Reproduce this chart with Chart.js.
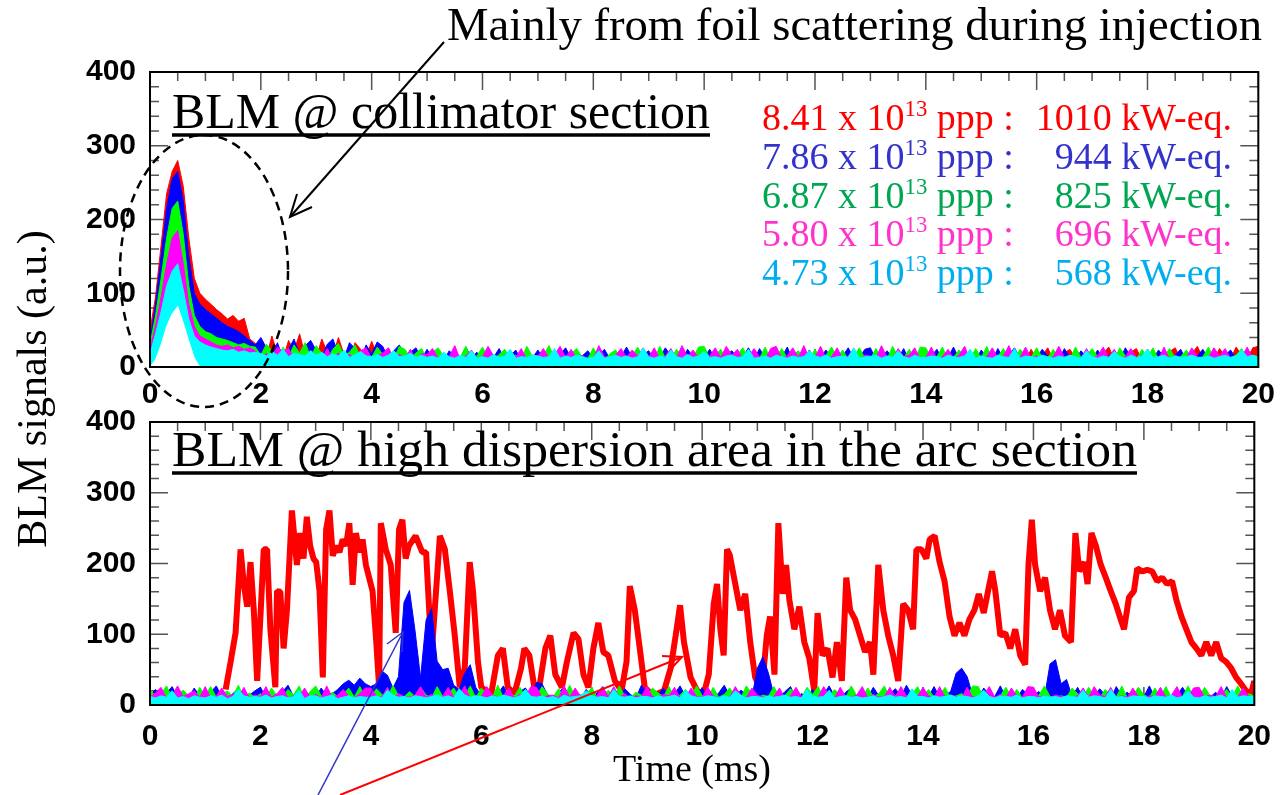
<!DOCTYPE html>
<html>
<head>
<meta charset="utf-8">
<script src="https://cdn.jsdelivr.net/npm/chart.js@4"></script>
<style>
  html, body { margin: 0; padding: 0; background: #fff; overflow: hidden; }
  #wrap { position: relative; width: 1285px; height: 795px; }
  canvas { position: absolute; left: 0; }
  #topChart { top: 0; }
  #botChart { top: 390px; }
  svg { position: absolute; left: 0; top: 0; pointer-events: none; }
  text { font-family: "Liberation Serif", "Times New Roman", serif; }
</style>
</head>
<body>
<div id="wrap">
  <canvas id="topChart" width="1285" height="420"></canvas>
  <canvas id="botChart" width="1285" height="405"></canvas>
  <svg width="1285" height="795" xmlns="http://www.w3.org/2000/svg">
    <!-- annotation top -->
    <text x="447" y="40" font-size="46" fill="#000" textLength="815" lengthAdjust="spacingAndGlyphs">Mainly from foil scattering during injection</text>
    <ellipse cx="204" cy="271" rx="84" ry="136" fill="none" stroke="#000" stroke-width="2.5" stroke-dasharray="9 6"/>
    <line x1="444" y1="42" x2="290" y2="217" stroke="#000" stroke-width="2"/>
    <polyline points="312,207 290,217 297,194" fill="none" stroke="#000" stroke-width="2"/>

    <!-- panel titles -->
    <text x="172" y="128" font-size="50" fill="#000" textLength="538" lengthAdjust="spacingAndGlyphs">BLM @ collimator section</text>
    <line x1="172" y1="135" x2="710" y2="135" stroke="#000" stroke-width="3.5"/>
    <text x="172" y="466" font-size="50" fill="#000" textLength="965" lengthAdjust="spacingAndGlyphs">BLM @ high dispersion area in the arc section</text>
    <line x1="172" y1="473" x2="1137" y2="473" stroke="#000" stroke-width="3.5"/>

    <!-- legend -->
    <g font-size="38">
      <text x="762" y="130" fill="#ff0000">8.41 x 10<tspan font-size="60%" dy="-14">13</tspan><tspan dy="14"> ppp :</tspan></text>
      <text x="1232" y="130" fill="#ff0000" text-anchor="end">1010 kW-eq.</text>
      <text x="762" y="169" fill="#3333cc">7.86 x 10<tspan font-size="60%" dy="-14">13</tspan><tspan dy="14"> ppp :</tspan></text>
      <text x="1232" y="169" fill="#3333cc" text-anchor="end">944 kW-eq.</text>
      <text x="762" y="208" fill="#00a651">6.87 x 10<tspan font-size="60%" dy="-14">13</tspan><tspan dy="14"> ppp :</tspan></text>
      <text x="1232" y="208" fill="#00a651" text-anchor="end">825 kW-eq.</text>
      <text x="762" y="246" fill="#ff33cc">5.80 x 10<tspan font-size="60%" dy="-14">13</tspan><tspan dy="14"> ppp :</tspan></text>
      <text x="1232" y="246" fill="#ff33cc" text-anchor="end">696 kW-eq.</text>
      <text x="762" y="285" fill="#00aeef">4.73 x 10<tspan font-size="60%" dy="-14">13</tspan><tspan dy="14"> ppp :</tspan></text>
      <text x="1232" y="285" fill="#00aeef" text-anchor="end">568 kW-eq.</text>
    </g>

    <!-- axis titles -->
    <text transform="translate(46,389) rotate(-90)" text-anchor="middle" font-size="42" fill="#000">BLM signals (a.u.)</text>
    <text x="692" y="781" text-anchor="middle" font-size="38" fill="#000">Time (ms)</text>

    <!-- arrows in lower panel -->
    <line x1="318" y1="795" x2="403" y2="632" stroke="#3333cc" stroke-width="1.5"/>
    <polyline points="387,644 403,632 402,652" fill="none" stroke="#3333cc" stroke-width="1.5"/>
    <line x1="340" y1="795" x2="682" y2="657" stroke="#ff0000" stroke-width="2"/>
    <polyline points="662,656 682,657 668,672" fill="none" stroke="#ff0000" stroke-width="2"/>
  </svg>
</div>

<script>
// ---- data (samples every 0.1 ms from 0 to 20 ms, one row = 1 ms) ----
const sampleStep = 0.1;

// upper panel: BLM @ collimator section
const topRed = [50,95,165,235,265,280,245,175,120,100, 92,85,78,72,65,70,62,66,38,32,
  30,14,42,18,11,36,22,45,15,28,  12,38,20,14,40,17,11,33,24,13,  35,16,12,26,10,21,13,9,18,11,
  10,14,9,12,17,8,11,15,9,13,     12,8,16,10,9,14,11,8,13,10,     9,13,11,8,15,10,12,9,14,11,
  14,10,8,12,9,16,10,13,8,11,     11,9,15,10,13,8,12,10,9,14,     10,13,9,16,11,8,12,14,10,9,
  13,10,12,8,14,11,9,15,10,12,    9,14,11,10,13,9,16,10,12,8,     12,9,15,11,8,13,10,14,9,17,
  10,13,9,18,11,14,8,12,20,10,    14,11,22,9,13,10,16,12,9,24,    11,15,26,10,13,19,24,12,9,16,
  13,10,18,27,11,15,12,20,25,10,  24,12,16,10,21,26,11,14,18,28,  12,19,10,25,14,11,27,16,10,26, 28];
const topBlue = [35,85,150,215,255,265,225,150,100,85, 78,72,66,60,55,52,48,42,36,30,
  40,26,15,33,12,24,38,16,29,36,  22,14,31,38,18,12,33,25,10,30,  18,34,28,12,22,30,14,20,26,11,
  24,12,16,9,22,14,11,27,13,20,   10,18,13,25,11,15,23,9,14,12,   23,11,14,10,17,26,12,9,15,22,
  12,16,24,11,9,14,27,13,10,17,   22,10,13,26,15,11,9,24,14,12,   13,24,11,9,16,22,12,14,26,10,
  25,12,15,10,13,27,9,16,12,23,   11,14,23,12,9,15,26,11,13,24,   26,10,13,22,14,11,25,9,16,12,
  12,15,24,10,13,27,11,14,23,9,   23,13,10,25,11,16,26,12,14,10,  12,24,15,11,9,25,13,10,22,14,
  10,23,12,16,13,9,26,14,11,15,   14,11,23,13,10,16,24,9,12,15,   24,10,14,12,16,23,11,13,22,10, 12];
const topGreen = [30,70,120,175,215,225,180,110,70,55, 48,45,40,38,36,33,30,32,28,27,
  16,31,22,12,27,14,30,19,33,13,  29,18,11,24,32,15,20,30,13,23,  13,27,17,21,11,28,24,12,19,25,
  11,20,26,14,10,18,13,28,11,15,  27,13,10,17,24,12,16,11,28,14,  10,16,29,12,14,9,18,25,13,11,
  26,13,10,18,23,12,9,15,27,13,   14,11,28,12,10,24,16,11,13,27,  28,12,15,24,10,13,17,26,11,14,
  12,27,10,14,25,12,16,22,13,10,  24,11,16,27,13,23,10,14,26,12,  11,25,13,10,28,14,12,24,11,27,
  26,12,14,27,10,13,23,15,11,25,  12,28,11,14,25,13,10,24,16,13,  26,13,12,24,11,14,10,27,13,15,
  25,14,11,13,10,26,15,12,10,24,  13,26,10,15,25,12,14,23,13,11,  14,27,12,10,15,13,16,25,11,14, 13];
const topMagenta = [25,55,95,140,175,185,140,85,55,42, 38,34,30,28,30,26,28,24,26,22,
  12,18,15,27,21,25,11,17,14,22,  16,13,25,11,19,14,17,12,22,26,  11,15,19,26,13,17,12,24,10,18,
  17,25,12,16,14,29,10,15,23,12,  14,28,15,11,16,23,13,25,10,16,  15,25,12,17,28,13,24,11,16,10,
  11,29,14,12,16,25,13,23,15,26,  13,26,11,15,25,12,29,14,23,12,  11,15,26,13,28,16,24,10,14,25,
  14,10,25,28,12,15,26,13,29,11,  13,28,12,14,26,11,15,25,10,16,  15,12,29,13,11,25,14,16,26,10,
  13,27,11,14,24,12,16,28,10,13,  11,14,26,12,15,29,11,13,27,12,  15,12,10,14,28,13,16,11,12,25,
  12,15,27,13,24,11,14,25,12,16,  15,13,11,27,10,16,12,13,26,14,  11,13,26,15,25,12,10,14,27,11, 12];
const topCyan = [18,45,75,110,130,140,105,65,42,34, 30,27,25,23,22,24,20,22,19,20,
  18,15,21,16,24,14,19,17,15,22,  16,20,14,18,15,23,13,17,21,15,  14,17,13,16,22,14,15,19,13,16,
  13,15,12,20,14,12,16,13,22,12,  14,12,17,13,15,24,12,14,13,16,  15,13,14,25,12,15,13,16,14,12,
  13,22,12,14,16,13,15,12,14,26,  14,12,15,13,23,14,12,17,13,15,  21,13,14,12,15,16,13,14,24,12,
  13,15,12,16,14,12,15,13,14,22,  15,13,16,12,14,15,13,26,12,14,  14,16,12,15,13,22,14,12,16,13,
  13,15,14,12,16,14,13,15,24,12,  15,13,12,16,14,13,25,12,15,14,  13,16,14,12,15,13,16,14,12,22,
  14,12,15,13,21,14,12,16,13,15,  24,13,14,16,12,15,13,14,16,13,  13,15,12,14,16,13,15,23,14,16, 14];
// the white hole inside the injection peak
const topWhite = [0,10,30,55,72,82,60,35,12,0];

// lower panel: BLM @ high dispersion area in the arc section
const botBlue = [14,22,9,17,26,11,15,10,24,13,  10,18,27,12,9,16,23,11,14,20,  25,11,15,9,19,28,12,10,17,13,
  11,24,13,16,22,30,35,28,38,30,  26,30,48,42,24,40,145,162,105,38,  120,136,62,50,52,28,22,45,57,25,
  13,21,10,16,27,12,9,19,24,11,  32,30,14,10,18,25,12,16,9,22,  12,17,26,10,14,11,23,15,10,28,
  18,11,14,24,10,16,27,12,9,15,  24,12,10,17,28,13,11,21,15,10,  52,68,45,14,11,19,26,10,16,12,
  22,10,15,27,12,9,18,24,11,14,  11,25,13,10,16,23,12,28,14,9,  17,12,26,11,14,19,45,52,40,13,
  10,24,14,12,27,11,16,9,22,15,  13,19,11,58,64,30,36,12,25,10,  16,11,23,14,9,26,13,18,10,24,
  12,27,10,15,20,11,14,25,13,9,  23,14,11,18,10,26,12,15,22,11, 16];
const botGreen = [22,12,16,27,10,14,21,13,9,25,  13,26,11,15,20,12,28,10,17,11,  16,10,24,13,11,22,14,27,10,19,
  27,13,10,18,12,15,24,11,26,12,  11,23,15,10,28,13,11,19,12,25,  14,10,26,12,16,24,11,13,27,10,
  24,15,11,28,10,17,13,25,11,14,  12,26,16,11,23,10,28,12,15,13,  25,10,13,21,11,27,12,10,18,14,
  11,24,17,12,26,10,14,22,13,27,  13,10,25,11,15,24,12,10,27,16,  10,14,12,26,11,13,23,15,10,25,
  15,26,11,12,22,14,10,27,13,11,  24,12,16,27,10,13,20,11,15,26,  12,22,11,14,25,10,13,16,12,27,
  26,11,15,10,13,25,12,22,10,14,  11,14,27,12,10,13,11,24,16,12,  25,13,10,22,14,11,27,10,13,25,
  14,11,24,12,26,10,15,12,27,11,  12,25,13,10,14,22,11,27,12,16, 13];
const botMagenta = [11,17,25,10,14,27,12,16,20,11,  26,10,13,24,12,15,11,25,10,14,  12,26,11,16,25,10,13,12,24,11,
  15,10,27,11,14,22,12,10,16,24,  24,13,11,25,10,16,12,11,14,26,  11,15,10,12,25,11,14,27,10,13,
  12,26,14,11,13,24,10,15,12,26,  25,11,13,14,10,27,11,24,12,10,  10,14,25,12,26,11,16,10,13,12,
  26,12,11,15,13,25,10,11,24,12,  11,25,13,10,12,11,26,14,10,24,  14,11,10,12,24,10,13,25,12,11,
  12,11,26,14,10,25,12,11,14,26,  10,15,11,12,25,11,26,13,10,12,  25,13,10,26,11,14,12,10,25,11,
  12,14,26,11,15,10,24,13,11,26,  25,11,13,10,14,12,10,11,13,24,  11,26,14,12,25,10,13,11,24,12,
  10,13,12,25,11,14,26,10,11,24,  25,11,14,12,26,10,13,11,24,12, 11];
const botCyan = [12,10,13,11,20,10,12,9,13,11,  10,13,11,14,9,12,22,13,11,12,  11,14,10,12,13,10,12,21,9,13,
  13,10,12,14,9,11,13,10,12,11,  11,13,10,21,14,11,12,10,13,12,  10,12,14,11,13,10,23,14,11,13,
  12,10,13,11,14,12,10,13,22,12,  11,13,10,12,9,14,11,12,13,20,  13,11,12,10,22,12,11,13,10,12,
  12,10,13,11,12,14,10,21,13,11,  11,13,12,10,13,11,20,14,10,12,  12,10,13,11,12,14,11,12,10,22,
  13,11,12,21,10,12,13,11,12,10,  11,13,10,12,14,11,12,10,23,12,  12,10,13,11,12,14,11,13,12,10,
  13,21,12,10,13,12,11,14,10,12,  12,10,13,11,12,10,13,12,11,21,  11,13,12,10,22,11,12,10,13,12,
  12,10,13,12,11,14,10,12,20,11,  10,13,11,12,14,10,22,11,13,12, 12];

// red (8.41e13 ppp) in the arc
const redT = [1.37,1.46,1.55,1.64,1.70,1.76,1.82,1.88,1.94,2.00,2.06,2.12,2.18,2.27,2.30,2.36,2.42,2.48,2.57,2.66,
  2.72,2.78,2.84,2.90,2.96,3.01,3.07,3.13,3.19,3.25,3.31,3.37,3.43,3.49,3.55,3.61,3.67,3.73,3.79,3.85,
  3.91,4.03,4.09,4.15,4.18,4.27,4.36,4.45,4.51,4.57,4.63,4.69,4.81,4.93,5.00,5.10,5.25,5.34,5.43,5.52,
  5.61,5.70,5.79,5.85,5.94,6.00,6.09,6.18,6.30,6.39,6.48,6.60,6.72,6.78,6.87,6.96,7.04,7.16,7.25,7.34,
  7.46,7.55,7.67,7.76,7.85,7.94,8.03,8.12,8.21,8.30,8.42,8.54,8.63,8.69,8.78,8.87,8.96,9.07,9.19,9.31,
  9.43,9.52,9.60,9.67,9.79,9.91,10.03,10.12,10.21,10.27,10.33,10.39,10.45,10.50,10.59,10.69,10.78,10.87,10.96,11.08,
  11.17,11.23,11.31,11.38,11.46,11.52,11.58,11.67,11.76,11.85,11.94,12.03,12.09,12.18,12.27,12.36,12.44,12.53,12.61,12.68,
  12.77,12.86,12.95,13.04,13.10,13.19,13.28,13.37,13.46,13.55,13.64,13.73,13.82,13.88,13.97,14.06,14.12,14.21,14.30,14.39,
  14.48,14.57,14.66,14.75,14.84,14.93,15.01,15.10,15.19,15.25,15.31,15.40,15.49,15.58,15.67,15.76,15.85,15.91,15.97,16.03,
  16.12,16.21,16.30,16.39,16.48,16.57,16.68,16.76,16.83,16.92,16.98,17.05,17.13,17.22,17.31,17.40,17.49,17.58,17.64,17.73,
  17.82,17.88,17.97,18.06,18.15,18.24,18.33,18.42,18.51,18.59,18.68,18.77,18.86,18.95,19.04,19.13,19.22,19.31,19.40,19.49,
  19.58,19.67,19.76,19.85,19.94,20.00];
const redV = [22,61,102,220,170,139,202,134,34,125,220,220,107,25,161,160,80,134,275,198,
  243,207,266,225,207,202,161,39,248,275,211,225,216,234,225,257,170,243,216,234,
  198,161,98,25,257,220,198,102,248,262,207,225,239,216,216,70,239,220,161,98,
  25,52,202,161,61,25,20,16,70,80,25,16,52,80,70,25,20,80,98,43,
  25,61,102,93,43,25,80,116,75,70,34,20,61,168,134,80,25,16,16,20,
  52,98,141,89,39,20,16,43,143,171,107,70,220,212,175,134,157,89,39,20,
  98,125,43,257,157,198,148,107,139,89,66,20,130,70,80,39,89,34,180,134,
  121,98,75,89,43,198,134,98,70,34,143,134,107,220,220,207,234,239,202,175,
  125,98,116,98,121,134,157,130,166,189,161,98,102,80,107,70,57,198,262,198,
  161,180,134,107,134,98,89,243,189,202,171,243,225,198,180,161,143,121,107,152,
  161,193,189,191,189,175,180,171,175,148,125,107,89,80,70,89,70,89,66,61,
  52,39,30,20,16,34];

// ---- styling ----
const RED = '#ff0000', BLUE = '#0000ff', GREEN = '#00ff00', MAGENTA = '#ff00ff', CYAN = '#00ffff';
Chart.defaults.font.family = '"Liberation Sans", Arial, sans-serif';

function series(values) {
  return values.map((v, i) => ({ x: i * sampleStep, y: v }));
}

function area(values, color, order) {
  return {
    data: series(values),
    borderColor: color,
    backgroundColor: color,
    borderWidth: 1,
    fill: 'origin',
    pointRadius: 0,
    tension: 0,
    order: order
  };
}

// frame with inward ticks on all four sides (ROOT style)
const frameTicks = {
  id: 'frameTicks',
  beforeDatasetsDraw(chart) {
    const { ctx, chartArea: a, scales: { x, y } } = chart;
    ctx.save();
    ctx.strokeStyle = '#555';
    ctx.lineWidth = 1.5;
    ctx.beginPath();
    for (let k = 0; k <= 40; k++) {
      const px = x.getPixelForValue(k * 0.5);
      const len = k % 4 === 0 ? 18 : 9;
      ctx.moveTo(px, a.top); ctx.lineTo(px, a.top + len);
      ctx.moveTo(px, a.bottom); ctx.lineTo(px, a.bottom - len);
    }
    for (let k = 0; k <= 20; k++) {
      const py = y.getPixelForValue(k * 20);
      const len = k % 5 === 0 ? 18 : 9;
      ctx.moveTo(a.left, py); ctx.lineTo(a.left + len, py);
      ctx.moveTo(a.right, py); ctx.lineTo(a.right - len, py);
    }
    ctx.stroke();
    ctx.restore();
  },
  afterDatasetsDraw(chart) {
    const { ctx, chartArea: a } = chart;
    ctx.save();
    ctx.strokeStyle = '#000';
    ctx.lineWidth = 2;
    ctx.strokeRect(a.left, a.top, a.right - a.left, a.bottom - a.top);
    ctx.restore();
  }
};

function makeOptions(padTop, xHeight, labelPad) {
  return {
    responsive: false,
    animation: false,
    layout: { padding: { top: padTop, right: 18, left: 0, bottom: 0 } },
    plugins: { legend: { display: false }, tooltip: { enabled: false } },
    scales: {
      x: {
        type: 'linear', min: 0, max: 20,
        ticks: { stepSize: 2, color: '#000', font: { size: 30, weight: 'bold' }, padding: labelPad, maxRotation: 0 },
        grid: { display: false, drawTicks: false },
        border: { display: false },
        afterFit(s) { s.height = xHeight; }
      },
      y: {
        min: 0, max: 400,
        ticks: { stepSize: 100, color: '#000', font: { size: 30, weight: 'bold' }, padding: 14 },
        grid: { display: false, drawTicks: false },
        border: { display: false },
        afterFit(s) { s.width = 150; }
      }
    }
  };
}

new Chart(document.getElementById('topChart'), {
  type: 'line',
  data: {
    datasets: [
      area(topWhite, '#ffffff', 0),
      area(topCyan, CYAN, 1),
      area(topMagenta, MAGENTA, 2),
      area(topGreen, GREEN, 3),
      area(topBlue, BLUE, 4),
      area(topRed, RED, 5)
    ]
  },
  options: makeOptions(72, 53, 10),
  plugins: [frameTicks]
});

new Chart(document.getElementById('botChart'), {
  type: 'line',
  data: {
    datasets: [
      area(botCyan, CYAN, 1),
      area(botMagenta, MAGENTA, 2),
      area(botGreen, GREEN, 3),
      area(botBlue, BLUE, 4),
      {
        data: redT.map((t, i) => ({ x: t, y: redV[i] })),
        borderColor: RED,
        borderWidth: 6,
        borderJoinStyle: 'bevel',
        fill: false,
        pointRadius: 0,
        tension: 0,
        order: 5
      }
    ]
  },
  options: makeOptions(22, 90, 14),
  plugins: [frameTicks]
});
</script>
</body>
</html>
